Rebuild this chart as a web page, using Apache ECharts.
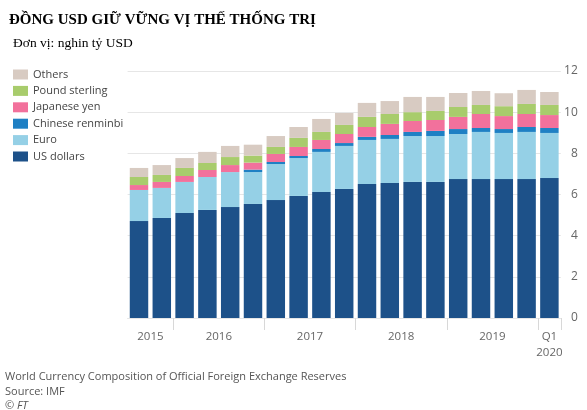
<!DOCTYPE html>
<html><head><meta charset="utf-8">
<script src="https://cdn.jsdelivr.net/npm/echarts@6/dist/echarts.min.js"></script>
<style>html,body{margin:0;padding:0;background:#fff}#c{width:587px;height:410px}</style>
</head><body><div id="c"></div>
<script>
var categories = ['2015Q3','2015Q4','2016Q1','2016Q2','2016Q3','2016Q4','2017Q1','2017Q2','2017Q3','2017Q4','2018Q1','2018Q2','2018Q3','2018Q4','2019Q1','2019Q2','2019Q3','2019Q4','2020Q1'];
var usDollars = [4.71,4.86,5.10,5.25,5.39,5.54,5.73,5.93,6.12,6.27,6.51,6.56,6.61,6.61,6.75,6.75,6.75,6.75,6.80];
var euro = [1.51,1.46,1.51,1.60,1.70,1.55,1.75,1.84,1.95,2.09,2.14,2.14,2.23,2.23,2.19,2.29,2.24,2.29,2.19];
var renminbi = [0,0,0,0,0,0.12,0.10,0.10,0.14,0.14,0.15,0.19,0.20,0.25,0.24,0.19,0.19,0.24,0.24];
var yen = [0.24,0.29,0.29,0.34,0.34,0.34,0.39,0.44,0.44,0.44,0.48,0.54,0.53,0.53,0.59,0.68,0.63,0.63,0.63];
var sterling = [0.39,0.34,0.39,0.34,0.39,0.34,0.34,0.44,0.39,0.44,0.49,0.48,0.43,0.44,0.48,0.44,0.48,0.49,0.49];
var others = [0.44,0.48,0.48,0.54,0.54,0.53,0.53,0.53,0.63,0.58,0.68,0.63,0.74,0.68,0.68,0.68,0.63,0.68,0.63];
var yearLabels = {'1':'2015','4':'2016','8':'2017','12':'2018','16':'2019','18.5':'Q1\n2020'};
var yTicks = [0,2,4,6,8,10,12];

var chart = echarts.init(document.getElementById('c'));
var sans = 'Open Sans';
function s(name, data, color){
  return {name:name, type:'bar', stack:'t', data:data, xAxisIndex:0, barCategoryGap:'19%',
    itemStyle:{color:color}, emphasis:{disabled:true}};
}
chart.setOption({
  animation:false,
  title:[
    {text:'ĐỒNG USD GIỮ VỮNG VỊ THẾ THỐNG TRỊ', left:4, top:8, textStyle:{fontFamily:'Liberation Serif', fontWeight:'bold', fontSize:15, color:'#000'}},
    {text:'Đơn vị: nghin tỷ USD', left:8, top:31, textStyle:{fontFamily:'Liberation Serif', fontWeight:'normal', fontSize:13.5, color:'#000'}},
    {text:'World Currency Composition of Official Foreign Exchange Reserves', left:0, top:366, textStyle:{fontFamily:sans, fontWeight:'normal', fontSize:11, color:'#555'}},
    {text:'Source: IMF', left:0, top:381, textStyle:{fontFamily:sans, fontWeight:'normal', fontSize:11, color:'#555'}},
    {text:'© FT', left:0, top:395, textStyle:{fontFamily:sans, fontWeight:'normal', fontStyle:'italic', fontSize:11, color:'#555'}}
  ],
  legend:{
    data:['Others','Pound sterling','Japanese yen','Chinese renminbi','Euro','US dollars'],
    orient:'vertical', left:8, top:64, itemWidth:15, itemHeight:10, itemGap:5.4, icon:'rect',
    textStyle:{fontFamily:sans, fontSize:11, color:'#444'}, selectedMode:false
  },
  grid:{left:127.6, right:26.2, top:71, bottom:92, containLabel:false},
  xAxis:[
    {type:'category', data:categories, position:'bottom',
     axisLine:{show:true, lineStyle:{color:'#e6e6e6'}},
     axisTick:{show:true, length:12, lineStyle:{color:'#d8d8d8'}, interval:function(i){return [2,6,10,14,18].indexOf(i)>=0;}},
     axisLabel:{show:false}},
    {type:'value', min:0, max:19, interval:0.5, position:'bottom',
     axisLine:{show:false}, axisTick:{show:false}, splitLine:{show:false},
     axisLabel:{show:true, margin:11, fontFamily:sans, fontSize:11.5, color:'#666', lineHeight:16,
       formatter:function(v){var k=String(v); return yearLabels[k]||'';}}}
  ],
  yAxis:{type:'value', min:0, max:12, interval:2, position:'right',
    axisLine:{show:false}, axisTick:{show:false},
    splitLine:{lineStyle:{color:'#e6e6e6'}},
    axisLabel:{margin:17, align:'right', fontFamily:sans, fontSize:12, color:'#666',
      formatter:function(v){return yTicks.indexOf(v)>=0?String(v):'';}}},
  series:[
    s('US dollars', usDollars, '#1d5189'),
    s('Euro', euro, '#95d0e6'),
    s('Chinese renminbi', renminbi, '#1f80c4'),
    s('Japanese yen', yen, '#f2719c'),
    s('Pound sterling', sterling, '#a8cc6c'),
    s('Others', others, '#d8cbc2')
  ]
});
</script></body></html>
